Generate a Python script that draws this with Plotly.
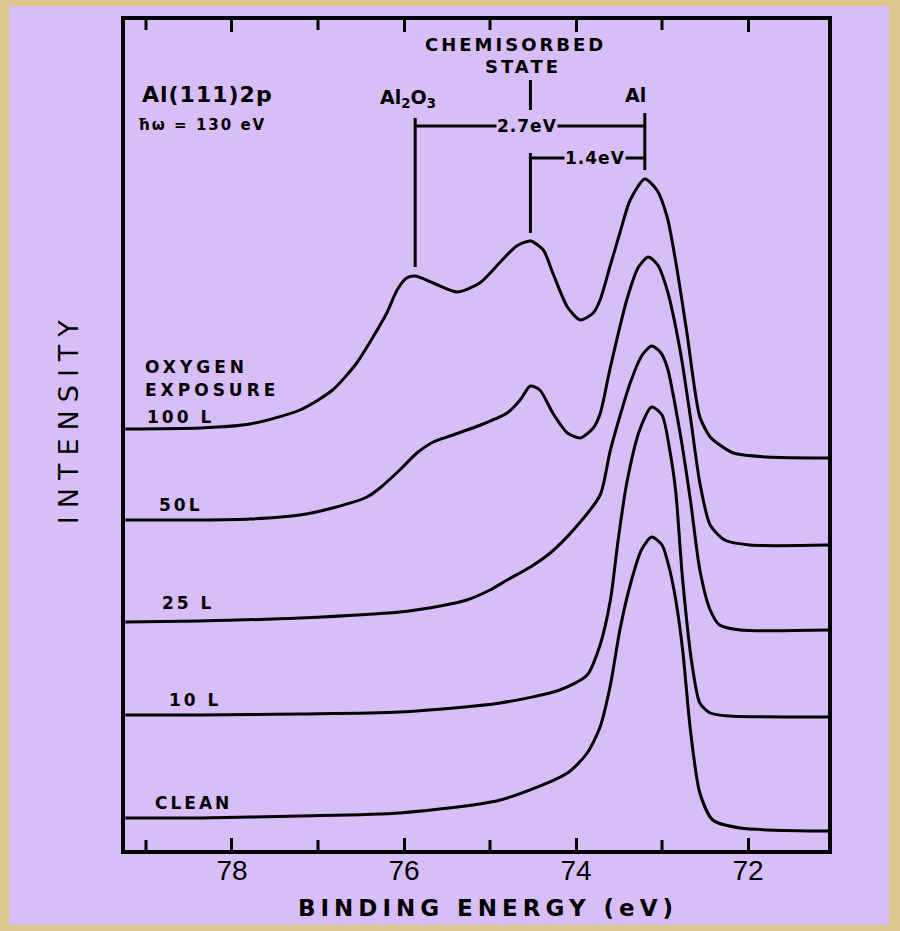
import plotly.graph_objects as go

# ---------------- data (binding energy in eV, intensity in arbitrary units) ----------------
energy_100L = [79.24, 78.37, 77.79, 77.21, 76.83, 76.55, 76.36, 76.20, 76.08, 75.97, 75.87, 75.66,
               75.38, 75.12, 74.88, 74.69, 74.53, 74.38, 74.27, 74.10, 73.95, 73.80, 73.72, 73.60,
               73.49, 73.37, 73.20, 73.06, 72.94, 72.83, 72.71, 72.56, 72.44, 72.36, 72.17, 71.78, 71.05]
intensity_100L = [4.21, 4.22, 4.26, 4.40, 4.60, 4.87, 5.13, 5.37, 5.60, 5.72, 5.74, 5.67,
                  5.58, 5.67, 5.88, 6.04, 6.09, 6.00, 5.77, 5.43, 5.30, 5.37, 5.50, 5.85,
                  6.17, 6.50, 6.71, 6.60, 6.33, 5.83, 5.17, 4.33, 4.13, 4.07, 3.97, 3.93, 3.92]

energy_50L = [79.24, 78.37, 77.79, 77.21, 76.83, 76.43, 76.28, 76.05, 75.85, 75.66, 75.43, 75.08,
              74.80, 74.65, 74.53, 74.42, 74.27, 74.10, 73.95, 73.80, 73.72, 73.60, 73.41, 73.28,
              73.16, 73.05, 72.94, 72.79, 72.67, 72.56, 72.44, 72.27, 71.98, 71.05]
intensity_50L = [3.30, 3.30, 3.31, 3.35, 3.42, 3.53, 3.62, 3.80, 3.97, 4.08, 4.15, 4.26,
                 4.37, 4.50, 4.64, 4.60, 4.37, 4.17, 4.12, 4.22, 4.36, 4.83, 5.50, 5.82,
                 5.93, 5.85, 5.60, 5.00, 4.33, 3.67, 3.25, 3.10, 3.05, 3.05]

energy_25L = [79.24, 78.37, 77.21, 76.05, 75.58, 75.27, 75.00, 74.80, 74.53, 74.30, 74.01, 73.72,
              73.60, 73.37, 73.23, 73.12, 73.02, 72.94, 72.79, 72.67, 72.56, 72.44, 72.33, 72.09, 71.05]
intensity_25L = [2.28, 2.29, 2.32, 2.38, 2.44, 2.50, 2.60, 2.70, 2.83, 2.97, 3.22, 3.55,
                 4.00, 4.67, 4.95, 5.04, 4.98, 4.83, 4.17, 3.50, 2.80, 2.40, 2.25, 2.20, 2.20]

energy_10L = [79.24, 78.37, 77.21, 76.05, 74.88, 74.19, 73.87, 73.72, 73.60, 73.51, 73.41, 73.26,
              73.12, 73.00, 72.91, 72.84, 72.76, 72.65, 72.56, 72.44, 72.21, 71.05]
intensity_10L = [1.35, 1.35, 1.36, 1.38, 1.47, 1.60, 1.75, 2.05, 2.50, 3.10, 3.67, 4.20,
                 4.43, 4.35, 4.00, 3.58, 2.70, 1.85, 1.47, 1.37, 1.34, 1.33]

energy_clean = [79.24, 78.37, 77.21, 76.05, 74.88, 74.10, 73.87, 73.72, 73.60, 73.49, 73.37, 73.24,
                73.12, 73.00, 72.91, 72.84, 72.76, 72.67, 72.56, 72.41, 72.09, 71.05]
intensity_clean = [0.32, 0.32, 0.34, 0.37, 0.50, 0.77, 0.97, 1.23, 1.65, 2.20, 2.65, 3.00,
                   3.13, 3.05, 2.80, 2.50, 2.00, 1.20, 0.57, 0.30, 0.22, 0.19]

major_ticks = [78, 76, 74, 72]
major_labels = ["78", "76", "74", "72"]
minor_ticks = [79, 77, 75, 73]

curve_labels = ["100 L", "50L", "25 L", "10 L", "CLEAN"]

# peak positions (eV)
e_al2o3 = 75.87
e_chem = 74.53
e_al = 73.20

# ---------------- figure ----------------
LAV = "#D8BEF6"
TAN = "#DEC78C"
FONT = "DejaVu Sans"

fig = go.Figure()
series = [(energy_100L, intensity_100L), (energy_50L, intensity_50L), (energy_25L, intensity_25L),
          (energy_10L, intensity_10L), (energy_clean, intensity_clean)]
for (ex, iy), name in zip(series, curve_labels):
    fig.add_trace(go.Scatter(x=ex, y=iy, mode="lines", name=name, showlegend=False,
                             line=dict(color="black", width=3, shape="spline", smoothing=0.7),
                             hoverinfo="skip"))

shapes = []
# lavender panel over tan border
shapes.append(dict(type="rect", xref="paper", yref="paper", x0=-0.1645, x1=1.087, y0=-0.0904, y1=1.0169,
                   fillcolor=LAV, line=dict(width=0), layer="below"))
# minor ticks (bottom and top), drawn inside the frame
for t in minor_ticks:
    shapes.append(dict(type="line", xref="x", yref="paper", x0=t, x1=t, y0=0, y1=0.012,
                       line=dict(color="black", width=3)))
    shapes.append(dict(type="line", xref="x", yref="paper", x0=t, x1=t, y0=1, y1=0.988,
                       line=dict(color="black", width=3)))
blk = dict(color="black", width=3)
# Al2O3 marker & 2.7 eV bracket
shapes.append(dict(type="line", xref="x", yref="y", x0=e_al2o3, x1=e_al2o3, y0=7.32, y1=5.83, line=blk))
shapes.append(dict(type="line", xref="x", yref="y", x0=e_al2o3, x1=e_al, y0=7.24, y1=7.24, line=blk))
# Al marker
shapes.append(dict(type="line", xref="x", yref="y", x0=e_al, x1=e_al, y0=7.37, y1=6.80, line=blk))
# chemisorbed marker
shapes.append(dict(type="line", xref="x", yref="y", x0=e_chem, x1=e_chem, y0=7.70, y1=7.40, line=blk))
shapes.append(dict(type="line", xref="x", yref="y", x0=e_chem, x1=e_chem, y0=6.97, y1=6.17, line=blk))
# 1.4 eV bracket
shapes.append(dict(type="line", xref="x", yref="y", x0=e_chem, x1=e_al, y0=6.92, y1=6.92, line=blk))

ann = []
def txt(x, y, s, size=17, xanchor="center", bold=True, bg=None, xref="x", yref="y", angle=0, ls=0):
    if ls:
        s = '<span style="letter-spacing:%dpx">%s</span>' % (ls, s)
    d = dict(x=x, y=y, xref=xref, yref=yref, text=s, showarrow=False, xanchor=xanchor, yanchor="middle",
             font=dict(family=FONT, size=size, color="black", weight="bold" if bold else "normal"),
             textangle=angle)
    if bg:
        d["bgcolor"] = bg
        d["borderpad"] = 0
    ann.append(d)

txt(79.07, 7.56, "Al(111)2p", size=22, xanchor="left", bold=True, ls=1)
txt(79.12, 7.25, "ħω = 130 eV", size=15, xanchor="left", bold=True, ls=2)
txt(74.70, 8.06, "CHEMISORBED", size=18, bold=True, ls=3)
txt(74.62, 7.84, "STATE", size=18, bold=True, ls=3)
txt(75.95, 7.52, "Al<sub>2</sub>O<sub>3</sub>", size=19, bold=True)
txt(73.31, 7.55, "Al", size=19, bold=True)
txt(74.57, 7.24, "2.7eV", size=17, bold=True, bg=LAV, ls=1)
txt(73.78, 6.92, "1.4eV", size=17, bold=True, bg=LAV, ls=1)
txt(79.03, 4.83, "OXYGEN", size=17, xanchor="left", ls=4)
txt(79.03, 4.60, "EXPOSURE", size=17, xanchor="left", ls=4)
label_pos = [(79.01, 4.33), (78.87, 3.45), (78.84, 2.47), (78.76, 1.50), (78.92, 0.47)]
for (lx, ly), s in zip(label_pos, curve_labels):
    txt(lx, ly, s, size=17, xanchor="left", ls=3)

txt(0.516, -0.070, "BINDING ENERGY (eV)", size=23, bold=True, xref="paper", yref="paper", ls=5)
txt(-0.08, 0.52, "INTENSITY", size=27, bold=False, xref="paper", yref="paper", angle=-90, ls=8)

fig.update_layout(
    width=900, height=931,
    margin=dict(l=125, r=72, t=20, b=81),
    paper_bgcolor=TAN, plot_bgcolor=LAV,
    shapes=shapes, annotations=ann,
    xaxis=dict(range=[79.244, 71.07], tickvals=major_ticks, ticktext=major_labels,
               ticks="inside", ticklen=12, tickwidth=3, tickcolor="black",
               showline=True, linewidth=4, linecolor="black", mirror="ticks",
               showgrid=False, zeroline=False, ticklabelstandoff=-8,
               tickfont=dict(family="Liberation Sans", size=28, color="black")),
    yaxis=dict(range=[0, 8.3], showticklabels=False, ticks="",
               showline=True, linewidth=4, linecolor="black", mirror=True,
               showgrid=False, zeroline=False),
)

fig.write_html("out.html", config={"displayModeBar": False},
               post_script="document.body.style.margin='0';document.body.style.padding='0';"
                           "document.body.style.overflow='hidden';")
